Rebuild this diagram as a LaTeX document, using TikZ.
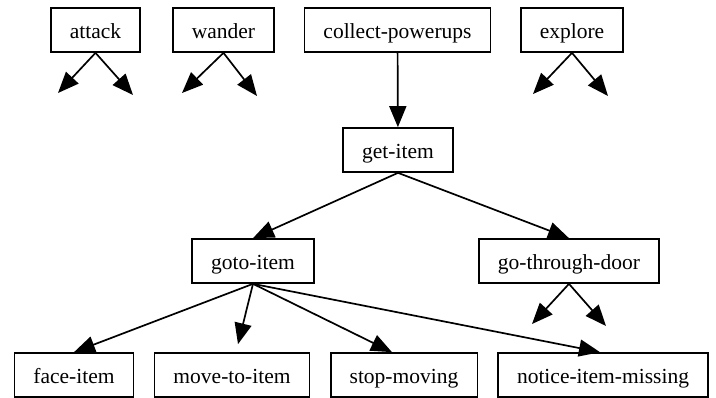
\documentclass[tikz,border=0pt]{standalone}
\usepackage{fontspec}
\setmainfont{Liberation Serif}
\usetikzlibrary{arrows.meta}
\begin{document}
\begin{tikzpicture}[x=1pt,y=-1pt,
  box/.style={draw,line width=1.7pt,minimum height=44pt,inner xsep=19pt,inner ysep=0pt,
    text height=17pt,text depth=0pt,
    font=\fontsize{21.5}{25}\selectfont},
  edge/.style={line width=1.7pt,-{Triangle[length=21pt,width=17pt]}}]
\useasboundingbox (0,0) rectangle (716,398);
% top row
\node[box] (attack)  at (95.5,30) {attack};
\node[box] (wander)  at (223.5,30) {wander};
\node[box] (collect) at (397.5,30) {collect-powerups};
\node[box] (explore) at (572,30) {explore};
% middle
\node[box] (get)  at (398,150) {get-item};
\node[box] (goto) at (253,261) {goto-item};
\node[box] (gtd)  at (569,261) {go-through-door};
% bottom
\node[box] (face)   at (74,375) {face-item};
\node[box] (move)   at (232,375) {move-to-item};
\node[box] (stop)   at (404,375) {stop-moving};
\node[box] (notice) at (603,375) {notice-item-missing};
% stub ends
\coordinate (a1) at (58,93);
\coordinate (a2) at (133,95);
\coordinate (w1) at (182,93);
\coordinate (w2) at (257,96);
\coordinate (e1) at (533,94);
\coordinate (e2) at (608,96);
\coordinate (g1) at (532,324);
\coordinate (g2) at (606,326);
% edges
\draw[edge] (attack.south) -- (a1);
\draw[edge] (attack.south) -- (a2);
\draw[edge] (wander.south) -- (w1);
\draw[edge] (wander.south) -- (w2);
\draw[edge] (explore.south) -- (e1);
\draw[edge] (explore.south) -- (e2);
\draw[edge] (gtd.south) -- (g1);
\draw[edge] (gtd.south) -- (g2);
\draw[edge] (collect) -- (get);
\draw[edge] (get.south) -- (goto.north);
\draw[edge] (get.south) -- (gtd.north);
\draw[edge] (goto.south) -- (face.north);
\draw[edge] (goto.south) -- ([shift={(6,-8)}]move.north);
\draw[edge] (goto.south) -- ([xshift=-12pt]stop.north);
\draw[edge] (goto.south) -- ([xshift=-3pt]notice.north);
\end{tikzpicture}
\end{document}
